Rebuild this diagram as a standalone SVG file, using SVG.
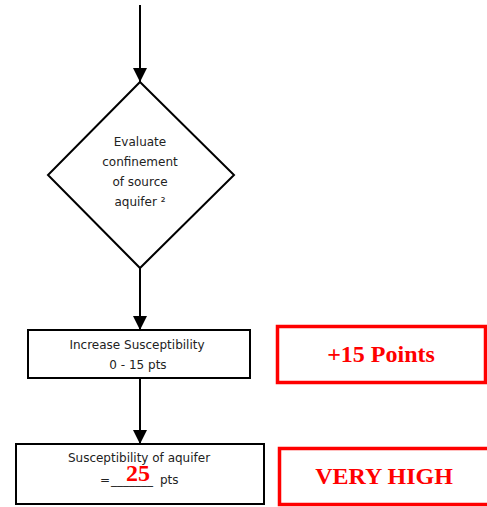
<svg xmlns="http://www.w3.org/2000/svg" width="487" height="507" viewBox="0 0 487 507">
<style>
.shape{fill:#fff;stroke:#000;stroke-width:2}
.red{fill:#fff;stroke:#f00;stroke-width:3.5}
.t{font-family:"DejaVu Sans",Verdana,sans-serif;font-size:12px;fill:#222;text-anchor:middle}
.s{text-anchor:start}
.rt{font-family:"Liberation Serif","Times New Roman",serif;font-weight:bold;font-size:24px;fill:#f00;text-anchor:middle}
.conn{stroke:#000;stroke-width:2;fill:none}
</style>
<defs>
<marker id="ah" markerUnits="userSpaceOnUse" markerWidth="14" markerHeight="14" refX="14" refY="7" orient="auto">
<path d="M0,0 L14,7 L0,14 z" fill="#000"/>
</marker>
</defs>
<rect width="487" height="507" fill="#fff"/>
<g id="connectors">
<line class="conn" x1="140" y1="5" x2="140" y2="82" marker-end="url(#ah)"/>
<line class="conn" x1="140" y1="268" x2="140" y2="330" marker-end="url(#ah)"/>
<line class="conn" x1="140" y1="378" x2="140" y2="444" marker-end="url(#ah)"/>
</g>
<g id="evaluate">
<polygon class="shape" points="140,82 234,175 140,268 48,175"/>
<text class="t" x="140" y="146">Evaluate</text>
<text class="t" x="140" y="166">confinement</text>
<text class="t" x="140" y="186">of source</text>
<text class="t" x="140" y="206">aquifer ²</text>
</g>
<g id="increase">
<rect class="shape" x="28" y="330" width="222" height="48"/>
<text class="t" x="137" y="349" font-size="12.5">Increase Susceptibility</text>
<text class="t" x="138" y="369">0 - 15 pts</text>
</g>
<g id="points">
<rect class="red" x="277.5" y="326.5" width="208" height="56"/>
<text class="rt" x="381" y="362">+15 Points</text>
</g>
<g id="susceptibility">
<rect class="shape" x="16" y="444" width="248" height="60"/>
<text class="t" x="139" y="462" font-size="12.5">Susceptibility of aquifer</text>
<text class="t s" x="100" y="484">=</text>
<text class="t s" x="111" y="484">_______</text>
<text class="t s" x="160" y="484">pts</text>
<text class="rt" x="138" y="481" font-size="21">25</text>
</g>
<g id="rating">
<rect class="red" x="279.5" y="448.5" width="220" height="56"/>
<text class="rt" x="384" y="484">VERY HIGH</text>
</g>
</svg>
